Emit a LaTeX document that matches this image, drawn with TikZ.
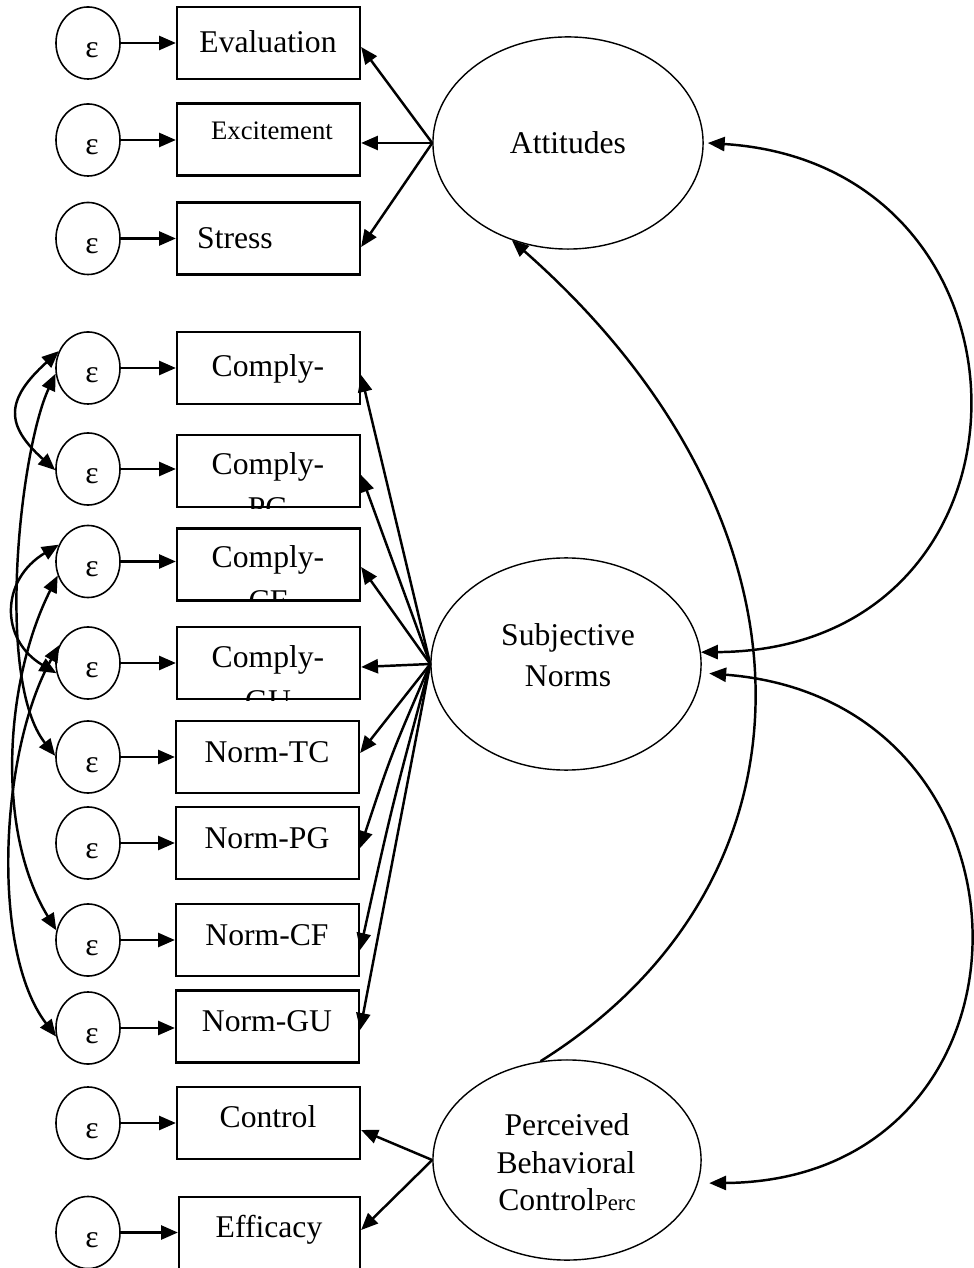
\documentclass[tikz,border=0pt]{standalone}
\usepackage{fontspec}
\setmainfont{Liberation Serif}
\usetikzlibrary{arrows.meta,shapes.geometric}

\begin{document}
\begin{tikzpicture}[x=0.01cm,y=-0.01cm,
  lbl/.style={font=\fontsize{9}{10.8}\selectfont, anchor=base, inner sep=0pt},
  smalllbl/.style={font=\fontsize{7.6}{9}\selectfont, anchor=base, inner sep=0pt},
  errc/.style={draw, line width=0.45pt, ellipse, minimum width=0.64cm, minimum height=0.72cm, inner sep=0pt},
  obs/.style={draw, line width=0.6pt, rectangle, minimum width=1.83cm, minimum height=0.72cm, inner sep=0pt},
  lat/.style={draw, line width=0.4pt, ellipse, minimum width=2.70cm, minimum height=2.12cm, inner sep=0pt},
  arr/.style={line width=0.7pt, -{Triangle[length=4.8pt,width=4pt]}},
  cov/.style={line width=0.7pt, {Triangle[length=4.8pt,width=4pt]}-{Triangle[length=4.8pt,width=4pt]}},
  eps/.style={lbl}]

\useasboundingbox (0,0) rectangle (973,1268);

% ---------- latent variables ----------
\node[lat] (Att) at (568,143) {};
\node[lbl] (tAtt) at (568,154) {Attitudes};
\node[lat] (SN) at (566,664) {};
\node[lbl] (tSN1) at (568,646) {Subjective};
\node[lbl] (tSN2) at (568,686) {Norms};
\node[lat, minimum width=2.68cm, minimum height=2.0cm] (PBC) at (567,1160) {};
\node[lbl] (tPBC1) at (567,1135) {Perceived};
\node[lbl] (tPBC2) at (566,1173) {Behavioral};
\node[lbl] (tPBC3) at (567,1210) {Control{\fontsize{6.5}{8}\selectfont Perc}};

% ---------- attitude indicators ----------
\node[errc] (eA1) at (88,43) {};
\node[errc] (eA2) at (88,140) {};
\node[errc] (eA3) at (88,238.5) {};
\node[obs] (bA1) at (268.5,43) {};
\node[obs] (bA2) at (268.5,139.5) {};
\node[obs] (bA3) at (268.5,238.5) {};
\node[lbl] (tA1) at (268,53) {Evaluation};
\node[smalllbl] (tA2) at (272,140) {Excitement};
\node[lbl] (tA3) at (235,249) {Stress};

% ---------- subjective norm indicators ----------
\node[errc] (eC1) at (88,368) {};
\node[errc] (eC2) at (88,469) {};
\node[errc] (eC3) at (88,561.5) {};
\node[errc] (eC4) at (88,663) {};
\node[errc] (eC5) at (88,757) {};
\node[errc] (eC6) at (88,843) {};
\node[errc] (eC7) at (88,940) {};
\node[errc] (eC8) at (88,1028) {};
\node[obs] (bC1) at (268.5,368) {};
\node[obs] (bC2) at (268.5,471) {};
\node[obs] (bC3) at (268.5,564.5) {};
\node[obs] (bC4) at (268.5,663) {};
\node[obs] (bC5) at (267.5,757) {};
\node[obs] (bC6) at (267.5,843) {};
\node[obs] (bC7) at (267.5,940) {};
\node[obs] (bC8) at (267.5,1026.5) {};

\node[lbl] (tC1) at (268,377) {Comply-};
\begin{scope}
  \clip (bC2.south west) rectangle (bC2.north east);
  \node[lbl] (tC2) at (268,475) {Comply-};
  \node[lbl] (tC2b) at (268,519) {PG};
\end{scope}
\begin{scope}
  \clip (bC3.south west) rectangle (bC3.north east);
  \node[lbl] (tC3) at (268,568) {Comply-};
  \node[lbl] (tC3b) at (268,612) {CF};
\end{scope}
\begin{scope}
  \clip (bC4.south west) rectangle (bC4.north east);
  \node[lbl] (tC4) at (268,667) {Comply-};
  \node[lbl] (tC4b) at (268,711) {GU};
\end{scope}
\node[lbl] (tC5) at (267,762) {Norm-TC};
\node[lbl] (tC6) at (267,848) {Norm-PG};
\node[lbl] (tC7) at (267,945) {Norm-CF};
\node[lbl] (tC8) at (267,1031) {Norm-GU};

% ---------- perceived behavioral control indicators ----------
\node[errc] (eP1) at (88,1123) {};
\node[errc] (eP2) at (88,1232.5) {};
\node[obs] (bP1) at (268.5,1123) {};
\node[obs, minimum width=1.81cm, minimum height=0.76cm] (bP2) at (269.5,1235) {};
\node[lbl] (tP1) at (268,1127) {Control};
\node[lbl] (tP2) at (269,1237) {Efficacy};

% ---------- error labels and error paths ----------
\foreach \e/\b in {eA1/bA1,eA2/bA2,eA3/bA3,eC1/bC1,eC2/bC2,eC3/bC3,eC4/bC4,
                   eC5/bC5,eC6/bC6,eC7/bC7,eC8/bC8,eP1/bP1,eP2/bP2}{
  \node[eps] at ([shift={(4,15)}]\e.center) {ε};
  \draw[arr] (\e.east) -- (\e.east -| \b.west);
}

% ---------- loadings ----------
\draw[arr] (Att.west) -- ([shift={(0,4)}]bA1.east);
\draw[arr] (Att.west) -- ([shift={(0,3.5)}]bA2.east);
\draw[arr] (Att.west) -- ([shift={(0,8.5)}]bA3.east);

\draw[arr] (SN.west) -- ([shift={(0,7)}]bC1.east);
\draw[arr] (SN.west) -- ([shift={(0,4)}]bC2.east);
\draw[arr] (SN.west) -- ([shift={(0,2.5)}]bC3.east);
\draw[arr] (SN.west) -- ([shift={(0,4)}]bC4.east);
\draw[arr] (SN.west) -- ([shift={(0,-4)}]bC5.east);
\draw[arr] (SN.west) .. controls (391,755) .. ([shift={(0,5)}]bC6.east);
\draw[arr] (SN.west) .. controls (392,806) .. ([shift={(0,10)}]bC7.east);
\draw[arr] (SN.west) -- ([shift={(0,3.5)}]bC8.east);

\draw[arr] (PBC.west) -- ([shift={(0,7)}]bP1.east);
\draw[arr] (PBC.west) -- ([shift={(0,-5)}]bP2.east);

% ---------- error covariances ----------
\draw[cov] (eC1.150) .. controls (5,400) and (5,425) .. (eC2.182);
\draw[cov] (eC1.190) .. controls (20,450) and (-5,680) .. (eC5.178);
\draw[cov] (eC3.150) .. controls (0,580) and (0,640) .. (eC4.198);
\draw[cov] (eC3.205) .. controls (5,680) and (-5,830) .. (eC7.163);
\draw[cov] (eC4.148) .. controls (0,750) and (-10,950) .. (eC8.195);

% ---------- latent covariances ----------
\draw[cov] (SN.5) .. controls (1055,650) and (1055,165) .. ([shift={(4,0)}]Att.east);
\draw[cov] ([shift={(11,0)}]PBC.-10) .. controls (1055,1180) and (1055,700) .. ([shift={(8,0)}]SN.-4);
\draw[arr] (PBC.105) .. controls (830,880) and (830,520) .. (Att.240);

\end{tikzpicture}
\end{document}
